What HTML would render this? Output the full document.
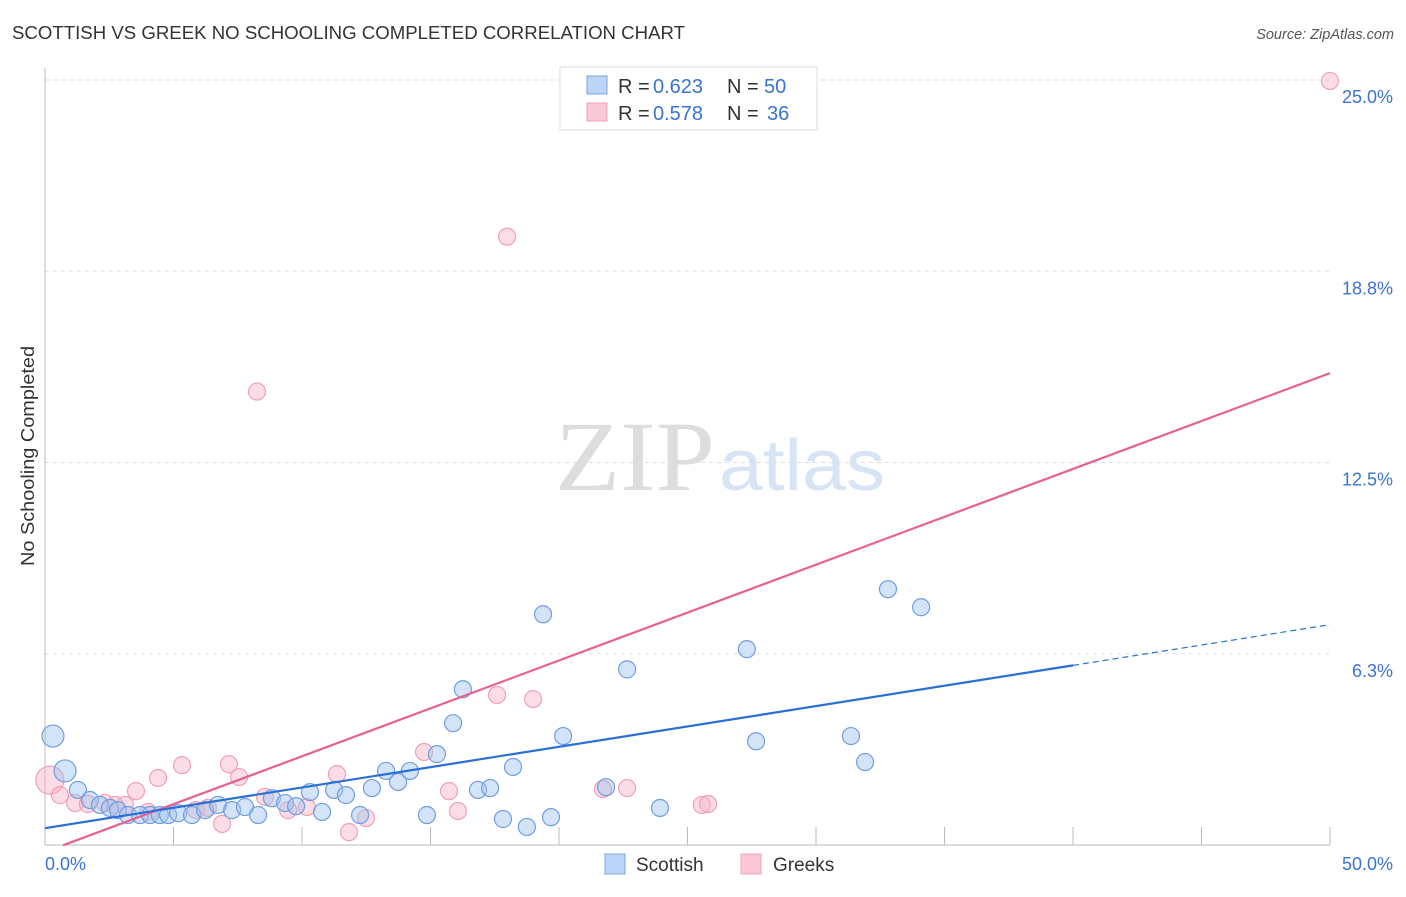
<!DOCTYPE html>
<html><head><meta charset="utf-8"><style>
body{margin:0;background:#fff;font-family:"Liberation Sans",sans-serif}
</style></head><body>
<svg id="chart" width="1406" height="892" xmlns="http://www.w3.org/2000/svg" font-family="Liberation Sans, sans-serif">
<text x="12" y="39" font-size="18" fill="#333" textLength="673" lengthAdjust="spacingAndGlyphs">SCOTTISH VS GREEK NO SCHOOLING COMPLETED CORRELATION CHART</text>
<text x="1394" y="39" font-size="14.5" fill="#555" font-style="italic" text-anchor="end">Source: ZipAtlas.com</text>
<text transform="translate(34,456) rotate(-90)" font-size="18" fill="#333" text-anchor="middle" textLength="220" lengthAdjust="spacingAndGlyphs">No Schooling Completed</text>
<g>
<text x="635" y="490" font-size="100" fill="#ddd" style="font-family:'Liberation Serif',serif" text-anchor="middle" textLength="160" lengthAdjust="spacingAndGlyphs">ZIP</text>
<text x="802" y="490" font-size="72" fill="#d6e4f5" text-anchor="middle" textLength="166" lengthAdjust="spacingAndGlyphs">atlas</text>
</g>
<g id="grid"></g>
<g id="axes"></g>
<g id="marks"></g>
<g>
<rect x="560" y="67" width="257" height="63" fill="#fff" stroke="#ddd"/>
<rect x="587" y="76" width="20" height="18" fill="#bcd4f5" stroke="#7aa6e0"/>
<rect x="587" y="103" width="20" height="18" fill="#fbc8d6" stroke="#f0a0b8"/>
<text x="618" y="93" font-size="20" fill="#333">R =</text>
<text x="653" y="93" font-size="20" fill="#3a74d0">0.623</text>
<text x="727" y="93" font-size="20" fill="#333">N =</text>
<text x="764" y="93" font-size="20" fill="#3a74d0">50</text>
<text x="618" y="120" font-size="20" fill="#333">R =</text>
<text x="653" y="120" font-size="20" fill="#3a74d0">0.578</text>
<text x="727" y="120" font-size="20" fill="#333">N =</text>
<text x="767" y="120" font-size="20" fill="#3a74d0">36</text>
</g>
<g>
<rect x="605" y="854" width="20" height="20" fill="#bcd4f5" stroke="#7aa6e0"/>
<text x="636" y="871" font-size="19" fill="#333">Scottish</text>
<rect x="741" y="854" width="20" height="20" fill="#fbc8d6" stroke="#f0a0b8"/>
<text x="773" y="871" font-size="19" fill="#333">Greeks</text>
</g>
</svg>
<script>
const yTicks=[6.25,12.5,18.75,25];
const yTickLabels=["6.3%","12.5%","18.8%","25.0%"];
const xTicks=[0,5,10,15,20,25,30,35,40,45,50];
const scotX=[0.31,0.78,1.28,1.75,2.14,2.53,2.84,3.23,3.70,4.09,4.47,4.79,5.18,5.72,6.23,6.73,7.28,7.78,8.29,8.83,9.34,9.77,10.31,10.78,11.25,11.71,12.26,12.72,13.27,13.74,14.20,14.86,15.25,15.88,16.26,16.85,17.32,17.82,18.21,18.75,19.38,19.69,20.16,21.83,22.65,23.93,27.31,27.67,31.36,31.91,32.80,34.09];
const scotY=[3.56,2.42,1.80,1.47,1.31,1.21,1.14,0.98,0.98,0.98,0.98,0.98,1.04,0.98,1.14,1.31,1.14,1.24,0.98,1.53,1.37,1.27,1.73,1.08,1.80,1.63,0.98,1.86,2.42,2.06,2.42,0.98,2.97,3.98,5.09,1.80,1.86,0.85,2.55,0.59,7.54,0.91,3.56,1.89,5.74,1.21,6.40,3.39,3.56,2.71,8.36,7.77];
const greekX=[0.19,0.58,1.17,1.67,2.33,2.72,3.11,3.54,4.01,4.40,5.33,5.88,6.34,6.89,7.16,7.55,8.25,8.56,9.46,10.19,11.36,11.83,12.49,14.75,15.72,16.07,17.59,17.98,18.99,21.71,22.65,25.56,25.80,50];
const greekY=[2.12,1.63,1.37,1.34,1.37,1.31,1.31,1.76,1.08,2.19,2.61,1.14,1.21,0.69,2.64,2.22,14.82,1.57,1.14,1.24,2.32,0.42,0.88,3.04,1.76,1.11,4.90,19.88,4.77,1.83,1.86,1.31,1.34,24.97];
const scotTrend=[0.55,0.133];
const greekTrend=[-0.23,0.313];
const NS="http://www.w3.org/2000/svg";
const X=v=>45+v/50*1285, Y=v=>845-v/25*765;
function mk(t,a,p){const e=document.createElementNS(NS,t);for(const k in a)e.setAttribute(k,a[k]);p.appendChild(e);return e;}
const grid=document.getElementById('grid'),axes=document.getElementById('axes'),marks=document.getElementById('marks');
yTicks.forEach((v,i)=>{
 const l=mk('line',{x1:45,x2:1330,y1:Y(v),y2:Y(v),stroke:'#ddd','stroke-dasharray':'4,4'},grid);
 
 
 const t=mk('text',{x:1393,y:Y(v)+23,'font-size':18,fill:'#3a74d0','text-anchor':'end'},axes);
 t.textContent=yTickLabels[i];
 
 
});
const ya=mk('line',{x1:45,x2:45,y1:68,y2:845,stroke:'#bbb'},axes);


const xa=mk('line',{x1:45,x2:1330,y1:845,y2:845,stroke:'#bbb'},axes);


xTicks.forEach(v=>{
 const t=mk('line',{x1:X(v),x2:X(v),y1:827,y2:845,stroke:'#bbb'},axes);
 
 
});
const x0=mk('text',{x:45,y:870,'font-size':18,fill:'#3a74d0'},axes);x0.textContent='0.0%';


const x1=mk('text',{x:1393,y:870,'font-size':18,fill:'#3a74d0','text-anchor':'end'},axes);x1.textContent='50.0%';


greekX.forEach((v,i)=>{
 const c=mk('circle',{cx:X(v),cy:Y(greekY[i]),r:i==0?14:8.5,fill:'rgba(248,180,200,0.45)',stroke:'#f0a0b8','stroke-width':1.2},marks);
 
 
});
scotX.forEach((v,i)=>{
 const c=mk('circle',{cx:X(v),cy:Y(scotY[i]),r:i<2?11:8.5,fill:'rgba(160,196,240,0.45)',stroke:'#6f9ee0','stroke-width':1.2},marks);
 
 
});
const pl=mk('line',{x1:X(0.7),y1:Y(greekTrend[0]+greekTrend[1]*0.7),x2:X(50),y2:Y(greekTrend[0]+greekTrend[1]*50),stroke:'#e8608e','stroke-width':2.2},marks);


const bl=mk('line',{x1:X(0),y1:Y(scotTrend[0]),x2:X(40),y2:Y(scotTrend[0]+scotTrend[1]*40),stroke:'#2a6fd6','stroke-width':2.2},marks);


const bd=mk('line',{x1:X(40),y1:Y(scotTrend[0]+scotTrend[1]*40),x2:X(50),y2:Y(scotTrend[0]+scotTrend[1]*50),stroke:'#2a6fd6','stroke-width':1.2,'stroke-dasharray':'6,4'},marks);


</script>
</body></html>
